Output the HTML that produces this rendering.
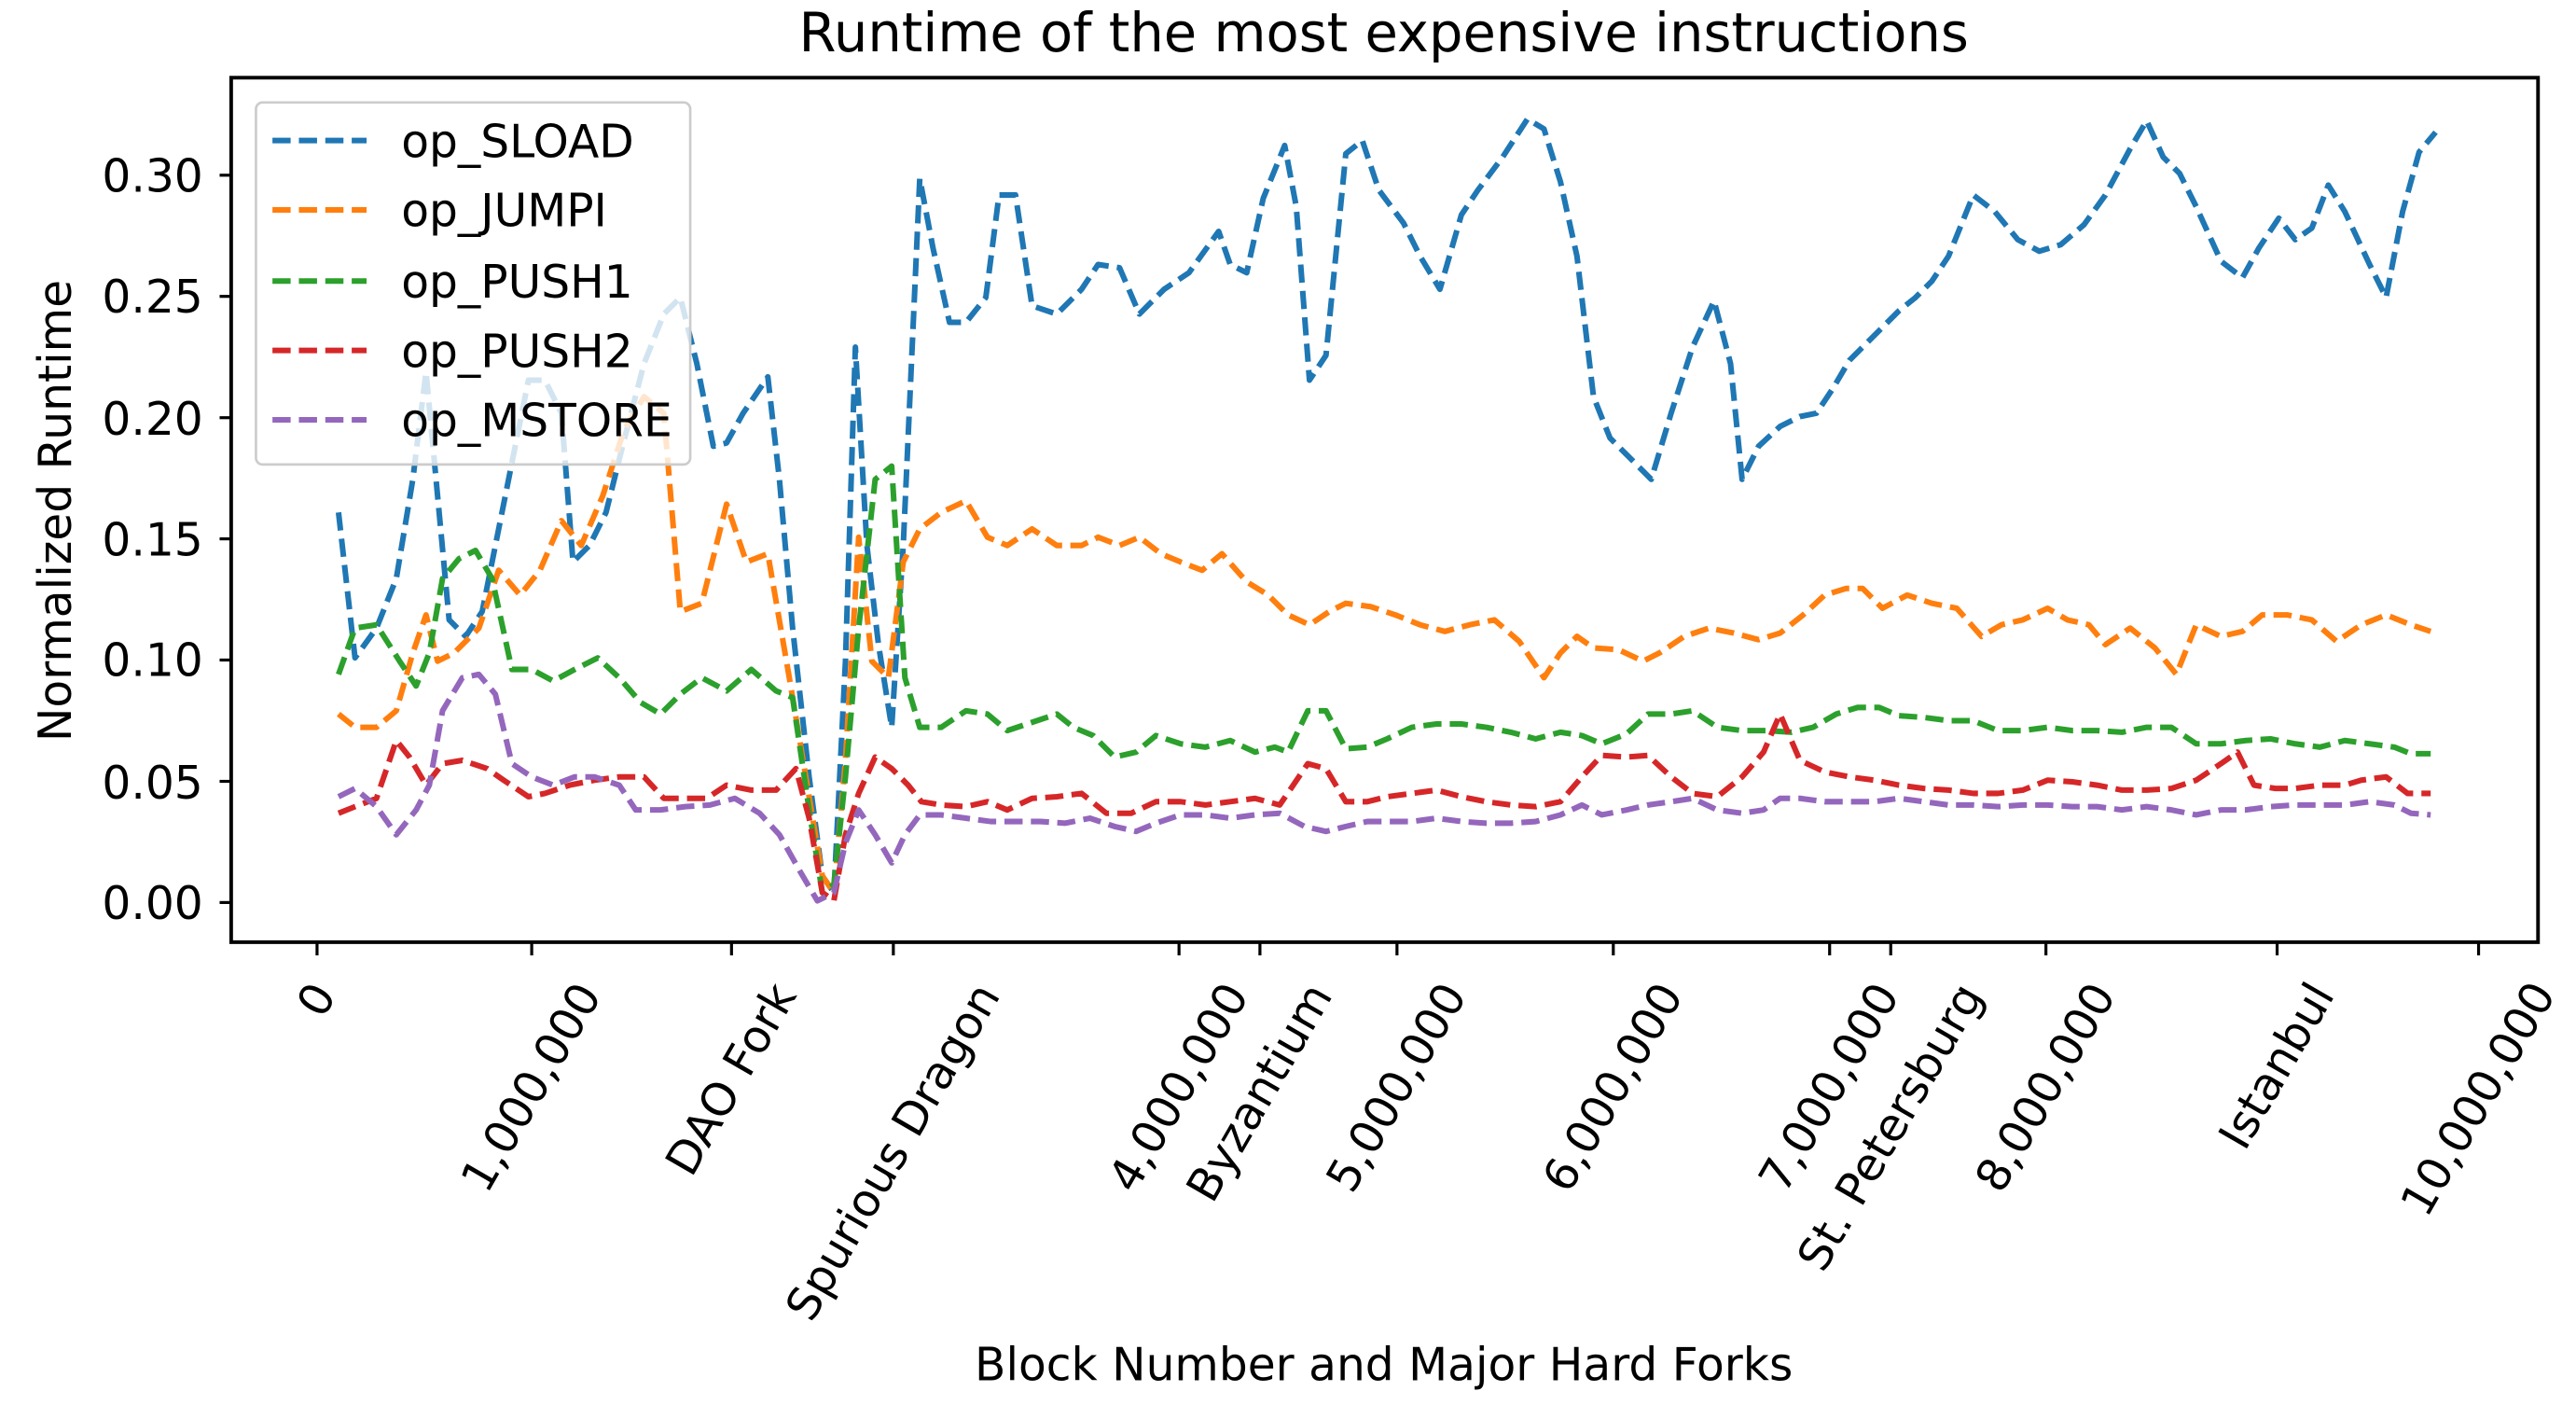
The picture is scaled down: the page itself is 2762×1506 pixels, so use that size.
<!DOCTYPE html>
<html><head><meta charset="utf-8"><style>
html,body{margin:0;padding:0;background:#fff;}
svg{display:block;}
text{font-family:"DejaVu Sans","Liberation Sans",sans-serif;fill:#000;}
</style></head><body>
<svg width="2762" height="1506" viewBox="0 0 1560 850" preserveAspectRatio="none" xmlns="http://www.w3.org/2000/svg">
<rect width="1560" height="850" fill="#fff"/>
<text x="838" y="31" font-size="32.5" text-anchor="middle">Runtime of the most expensive instructions</text>
<g fill="none" stroke-width="3.4" stroke-dasharray="11,5" stroke-linejoin="round">
<polyline stroke="#1f77b4" points="205,310 215,398 228,380 240,350 250,290 258,225 265,300 272,375 282,385 292,370 302,320 312,270 320,230 330,230 340,250 347,340 357,330 367,310 377,270 390,220 402,190 412,180 422,220 432,270 440,268 450,250 465,228 472,290 480,380 490,470 498,530 505,540 512,400 518,210 525,330 532,390 540,440 547,330 557,108 565,150 575,195 585,195 597,180 605,118 615,118 625,185 640,190 655,175 665,160 678,162 690,190 705,175 720,165 738,140 745,160 755,165 765,120 778,88 785,125 793,230 803,215 815,93 825,85 835,115 850,135 860,155 872,175 885,130 895,115 910,95 925,72 935,78 945,110 955,155 965,240 975,265 988,278 1000,290 1012,250 1025,210 1038,182 1048,220 1055,290 1065,270 1078,258 1090,252 1100,250 1110,235 1120,218 1130,208 1140,198 1150,188 1160,180 1170,170 1180,155 1195,118 1208,128 1222,145 1235,152 1248,148 1262,136 1275,118 1290,90 1300,73 1310,95 1320,105 1330,125 1345,158 1358,168 1368,150 1380,132 1390,145 1400,138 1410,112 1420,128 1435,160 1445,180 1455,128 1465,92 1475,80"/>
<polyline stroke="#ff7f0e" points="205,432 215,440 228,440 240,430 250,395 258,372 265,400 275,395 290,380 302,345 315,360 327,345 340,315 352,330 365,300 378,260 390,240 402,250 412,370 425,365 440,305 452,340 465,335 478,410 488,470 498,530 505,540 512,460 520,325 528,400 538,410 547,340 557,320 570,310 585,303 598,325 610,330 625,320 640,330 655,330 665,325 678,330 690,325 703,335 715,340 728,345 740,335 755,352 768,360 780,372 793,378 805,370 815,365 830,367 845,372 860,378 875,382 890,378 905,375 920,388 935,410 945,395 955,385 965,392 980,393 995,400 1005,395 1020,385 1035,380 1050,383 1065,387 1078,383 1092,372 1105,360 1118,356 1128,356 1140,368 1155,360 1170,365 1185,368 1200,385 1212,378 1225,375 1240,368 1252,375 1265,378 1275,390 1290,380 1305,392 1318,408 1330,378 1345,385 1358,382 1370,372 1385,372 1400,375 1415,388 1430,378 1445,372 1460,378 1472,382"/>
<polyline stroke="#2ca02c" points="205,408 215,380 228,378 242,400 252,415 260,395 268,350 278,338 288,333 298,350 310,405 322,405 335,412 348,405 362,398 375,410 388,425 400,432 412,420 425,410 440,418 455,405 470,418 480,422 490,490 498,540 505,535 512,470 520,380 530,290 540,282 548,410 557,440 570,440 585,430 598,432 610,442 625,437 640,432 650,440 662,445 675,458 688,455 700,445 715,450 730,452 745,448 760,455 772,452 780,455 792,430 803,430 815,453 828,452 840,447 855,440 870,438 885,438 900,440 915,443 930,447 945,443 958,445 970,450 985,444 998,432 1012,432 1025,430 1040,440 1055,442 1070,442 1085,443 1098,440 1112,432 1125,428 1138,428 1150,433 1165,434 1180,436 1195,436 1210,442 1225,442 1240,440 1255,442 1270,442 1285,443 1300,440 1315,440 1330,450 1345,450 1360,448 1375,447 1390,450 1405,452 1420,448 1435,450 1450,452 1460,456 1472,456"/>
<polyline stroke="#d62728" points="205,492 215,488 228,483 240,448 248,458 258,475 268,462 280,460 295,465 305,472 320,482 330,480 345,475 360,472 375,470 390,470 402,483 415,483 428,483 440,475 455,478 470,478 482,465 490,495 498,540 505,545 512,505 520,480 530,458 540,465 550,475 558,485 570,487 585,488 598,485 610,490 625,483 640,482 655,480 670,492 685,492 700,485 715,485 730,487 745,485 760,483 775,487 792,462 803,465 815,485 828,485 840,482 855,480 870,478 885,482 900,485 915,487 930,488 945,485 958,470 970,457 985,458 998,457 1012,470 1025,480 1040,482 1055,470 1068,455 1078,432 1090,460 1105,467 1120,470 1135,472 1150,475 1165,477 1180,478 1195,480 1210,480 1225,478 1240,472 1255,473 1270,475 1285,478 1300,478 1315,477 1330,472 1345,462 1355,455 1365,475 1378,477 1390,477 1405,475 1420,475 1430,472 1445,470 1458,480 1472,480"/>
<polyline stroke="#9467bd" points="205,482 215,477 228,488 240,505 252,490 260,475 268,430 280,410 290,408 300,420 310,462 322,470 335,475 348,470 360,470 375,475 385,490 400,490 415,488 430,487 445,483 460,492 472,505 485,528 495,545 505,540 512,510 520,490 530,505 540,522 548,505 557,493 570,493 585,495 600,497 615,497 630,497 645,498 660,495 675,500 688,503 700,498 715,493 730,493 745,495 760,493 775,492 790,500 803,503 815,500 828,497 840,497 855,497 870,495 885,497 900,498 915,498 930,497 945,493 958,487 970,493 985,490 998,487 1012,485 1025,483 1040,490 1055,492 1068,490 1078,483 1090,483 1105,485 1120,485 1135,485 1150,483 1165,485 1180,487 1195,487 1210,488 1225,487 1240,487 1255,488 1270,488 1285,490 1300,488 1315,490 1330,493 1345,490 1360,490 1375,488 1390,487 1405,487 1420,487 1435,485 1450,487 1460,492 1472,493"/>
</g>
<rect x="155" y="62" width="263" height="219" rx="4" fill="#fff" fill-opacity="0.8" stroke="#ccc" stroke-width="1.5"/>
<g stroke-width="3.4" stroke-dasharray="11,5">
<line x1="165" y1="85" x2="222" y2="85" stroke="#1f77b4"/>
<line x1="165" y1="127" x2="222" y2="127" stroke="#ff7f0e"/>
<line x1="165" y1="170" x2="222" y2="170" stroke="#2ca02c"/>
<line x1="165" y1="212" x2="222" y2="212" stroke="#d62728"/>
<line x1="165" y1="254" x2="222" y2="254" stroke="#9467bd"/>
</g>
<g font-size="27.5">
<text x="243" y="95">op_SLOAD</text>
<text x="243" y="137">op_JUMPI</text>
<text x="243" y="180">op_PUSH1</text>
<text x="243" y="222">op_PUSH2</text>
<text x="243" y="264">op_MSTORE</text>
</g>
<rect x="140" y="47" width="1397" height="523" fill="none" stroke="#000" stroke-width="2.2"/>
<g stroke="#000" stroke-width="1.8">
<line x1="140" y1="106" x2="133" y2="106"/><line x1="140" y1="179.3" x2="133" y2="179.3"/><line x1="140" y1="252.7" x2="133" y2="252.7"/><line x1="140" y1="326" x2="133" y2="326"/><line x1="140" y1="399.3" x2="133" y2="399.3"/><line x1="140" y1="472.7" x2="133" y2="472.7"/><line x1="140" y1="546" x2="133" y2="546"/>
<line x1="192" y1="570" x2="192" y2="578"/><line x1="322" y1="570" x2="322" y2="578"/><line x1="443" y1="570" x2="443" y2="578"/><line x1="541" y1="570" x2="541" y2="578"/><line x1="714" y1="570" x2="714" y2="578"/><line x1="763" y1="570" x2="763" y2="578"/><line x1="846" y1="570" x2="846" y2="578"/><line x1="977" y1="570" x2="977" y2="578"/><line x1="1108" y1="570" x2="1108" y2="578"/><line x1="1145" y1="570" x2="1145" y2="578"/><line x1="1239" y1="570" x2="1239" y2="578"/><line x1="1379" y1="570" x2="1379" y2="578"/><line x1="1501" y1="570" x2="1501" y2="578"/>
</g>
<g font-size="27.5" text-anchor="end">
<text x="123" y="116">0.30</text><text x="123" y="189">0.25</text><text x="123" y="263">0.20</text><text x="123" y="336">0.15</text><text x="123" y="409">0.10</text><text x="123" y="483">0.05</text><text x="123" y="556">0.00</text>
</g>
<g font-size="27.5" text-anchor="middle" dominant-baseline="central">
<text transform="translate(192,605) rotate(-60)">0</text>
<text transform="translate(322,658) rotate(-60)">1,000,000</text>
<text transform="translate(443,653) rotate(-60)">DAO Fork</text>
<text transform="translate(541,697) rotate(-60)">Spurious Dragon</text>
<text transform="translate(714,658) rotate(-60)">4,000,000</text>
<text transform="translate(763,661) rotate(-60)">Byzantium</text>
<text transform="translate(846,658) rotate(-60)">5,000,000</text>
<text transform="translate(977,658) rotate(-60)">6,000,000</text>
<text transform="translate(1108,658) rotate(-60)">7,000,000</text>
<text transform="translate(1145,682) rotate(-60)">St. Petersburg</text>
<text transform="translate(1239,658) rotate(-60)">8,000,000</text>
<text transform="translate(1379,645) rotate(-60)">Istanbul</text>
<text transform="translate(1501,665) rotate(-60)">10,000,000</text>
</g>
<text x="838" y="835" font-size="27.5" text-anchor="middle">Block Number and Major Hard Forks</text>
<text transform="translate(43,309) rotate(-90)" font-size="27.5" text-anchor="middle">Normalized Runtime</text>
</svg>
</body></html>
